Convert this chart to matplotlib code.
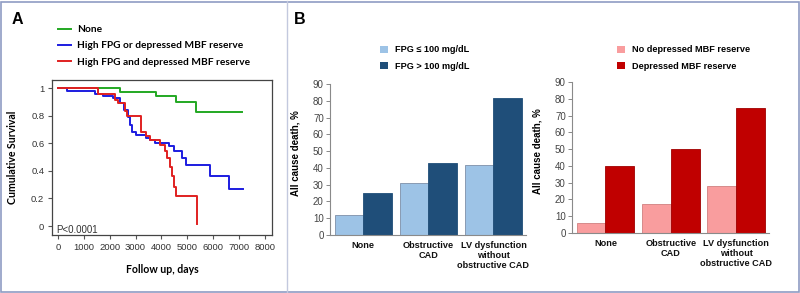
import matplotlib
matplotlib.use("Agg")
import matplotlib.pyplot as plt
from matplotlib.lines import Line2D
from matplotlib.patches import Patch, Rectangle
import numpy as np

# ---------------- data ----------------
km_labels = ["None", "High FPG or depressed MBF reserve", "High FPG and depressed MBF reserve"]
green_t = [0, 2400, 3800, 4550, 5350, 7130]
green_s = [1.0, 0.973, 0.944, 0.896, 0.824, 0.824]
blue_t = [0, 350, 1420, 1740, 2130, 2390, 2540, 2710, 2800, 2880, 3000, 3390, 3550, 3740,
          4300, 4500, 4810, 4940, 5870, 6620, 7160]
blue_s = [1.0, 0.98, 0.96, 0.94, 0.925, 0.89, 0.84, 0.79, 0.73, 0.68, 0.66, 0.635, 0.62, 0.60,
          0.58, 0.54, 0.49, 0.44, 0.36, 0.27, 0.27]
red_t = [0, 1550, 2190, 2320, 2580, 2670, 3225, 3420, 3550, 3935, 4130, 4220, 4320, 4420,
         4470, 4550, 5380]
red_s = [1.0, 0.96, 0.91, 0.89, 0.83, 0.80, 0.68, 0.65, 0.62, 0.59, 0.54, 0.49, 0.43, 0.36,
         0.285, 0.217, 0.015]
km_xticks = [0, 1000, 2000, 3000, 4000, 5000, 6000, 7000, 8000]
km_yticks = [0, 0.2, 0.4, 0.6, 0.8, 1]
km_yticklabels = ["0", "0.2", "0.4", "0.6", "0.8", "1"]

bar_categories = ["None", "Obstructive\nCAD", "LV dysfunction\nwithout\nobstructive CAD"]
fpg_low = [11.7, 30.8, 41.5]
fpg_high = [25.0, 42.7, 81.5]
fpg_labels = ["FPG \u2264 100 mg/dL", "FPG > 100 mg/dL"]
mbf_no = [6.0, 17.5, 28.0]
mbf_dep = [40.2, 50.3, 74.8]
mbf_labels = ["No depressed MBF reserve", "Depressed MBF reserve"]
bar_yticks = list(range(0, 100, 10))

# ---------------- figure ----------------
W, H = 800, 293
fig = plt.figure(figsize=(W / 100, H / 100), dpi=100)
fig.patch.set_facecolor("white")

def ax_px(x0, y0, x1, y1):
    return fig.add_axes([x0 / W, 1 - y1 / H, (x1 - x0) / W, (y1 - y0) / H])

ARIAL = ["Liberation Sans", "DejaVu Sans"]
CAL = ["Lato", "DejaVu Sans"]

# outer border and divider
fig.add_artist(Rectangle((0.5 / W, 1.5 / H), (W - 1.5) / W, (H - 3) / H, transform=fig.transFigure,
                         fill=False, edgecolor="#8f9cc4", linewidth=1.2))
fig.add_artist(Line2D([287 / W, 287 / W], [1.5 / H, 1 - 1 / H], transform=fig.transFigure,
                      color="#c3c9de", linewidth=1.0))

fig.text(12 / W, 1 - 20 / H, "A", fontsize=11.5, fontweight="bold", family=ARIAL, va="center", ha="left")
fig.text(294 / W, 1 - 19 / H, "B", fontsize=11.5, fontweight="bold", family=ARIAL, va="center", ha="left")

# ---------------- panel A ----------------
axA = ax_px(52, 80, 272, 235)
lg, = axA.step(green_t, green_s, where="post", color="#22a822", lw=1.4)
lb, = axA.step(blue_t, blue_s, where="post", color="#1c1ce0", lw=1.4)
lr, = axA.step(red_t, red_s, where="post", color="#e02020", lw=1.4)
axA.set_xlim(-232, 8278)
axA.set_ylim(-0.065, 1.058)
axA.set_xticks(km_xticks)
axA.set_xticklabels([str(v) for v in km_xticks], family=ARIAL, fontsize=6.8, color="#333333")
axA.set_yticks(km_yticks)
axA.set_yticklabels(km_yticklabels, family=ARIAL, fontsize=6.8, color="#333333")
axA.tick_params(length=3, width=0.8, color="#555555", pad=2.5)
for s in axA.spines.values():
    s.set_color("#444444")
    s.set_linewidth(0.9)
axA.set_xlabel("Follow up, days", family=CAL, fontweight="bold", fontsize=7.6, labelpad=9)
axA.set_ylabel("Cumulative Survival", family=CAL, fontweight="bold", fontsize=7.6)
axA.yaxis.set_label_coords(-34 / 220, 0.5)
axA.text(0.02, 0.035, "P<0.0001", transform=axA.transAxes, family=ARIAL, fontsize=7,
         color="#333333", ha="left", va="center")
fig.legend([lg, lb, lr], km_labels, loc="upper left", bbox_to_anchor=(58 / W, 1 - 25 / H),
           frameon=False, prop={"family": CAL, "weight": "bold", "size": 7.3},
           handlelength=1.3, handletextpad=0.6, labelspacing=0.72, borderpad=0, borderaxespad=0)

# ---------------- panel B bars ----------------
def bar_panel(box, low, high, c_low, c_high, e_low, e_high, labels, legend_anchor):
    ax = ax_px(*box)
    x = np.arange(len(bar_categories))
    w = 0.44
    ax.bar(x - w / 2, low, w, color=c_low, edgecolor=e_low, linewidth=0.6)
    ax.bar(x + w / 2, high, w, color=c_high, edgecolor=e_high, linewidth=0.6)
    ax.set_xlim(-0.51, 2.5)
    ax.set_ylim(0, 90)
    ax.set_yticks(bar_yticks)
    ax.set_yticklabels([str(v) for v in bar_yticks], family=ARIAL, fontsize=7, color="#444444")
    ax.set_xticks(x)
    ax.set_xticklabels(bar_categories, family=ARIAL, fontsize=6.6, fontweight="bold",
                       color="#111111", linespacing=1.2)
    ax.tick_params(axis="x", length=0, pad=4)
    ax.tick_params(axis="y", length=3, width=0.7, color="#888888", pad=1.5)
    for k in ("top", "right"):
        ax.spines[k].set_visible(False)
    for k in ("left", "bottom"):
        ax.spines[k].set_color("#8a8a8a")
        ax.spines[k].set_linewidth(0.8)
    ax.set_ylabel("All cause death, %", family=ARIAL, fontweight="bold", fontsize=7)
    ax.yaxis.set_label_coords(-30 / (box[2] - box[0]), 0.54)
    fig.legend([Patch(facecolor=c_low, edgecolor="none"), Patch(facecolor=c_high, edgecolor="none")],
               labels, loc="upper left", bbox_to_anchor=legend_anchor, frameon=False,
               prop={"family": ARIAL, "weight": "bold", "size": 6.6},
               handlelength=0.85, handleheight=0.85, handletextpad=0.75, labelspacing=0.8,
               borderpad=0, borderaxespad=0)
    return ax

bar_panel((330, 84, 526, 235), fpg_low, fpg_high, "#9dc3e6", "#1f4e79", "#7d8fa8", "#1f4e79",
          fpg_labels, (380 / W, 1 - 45.5 / H))
bar_panel((572, 82, 769, 233), mbf_no, mbf_dep, "#f99d9e", "#c00000", "#d08080", "#a00000",
          mbf_labels, (617 / W, 1 - 45.5 / H))

fig.savefig("out.png", dpi=100, facecolor="white")
